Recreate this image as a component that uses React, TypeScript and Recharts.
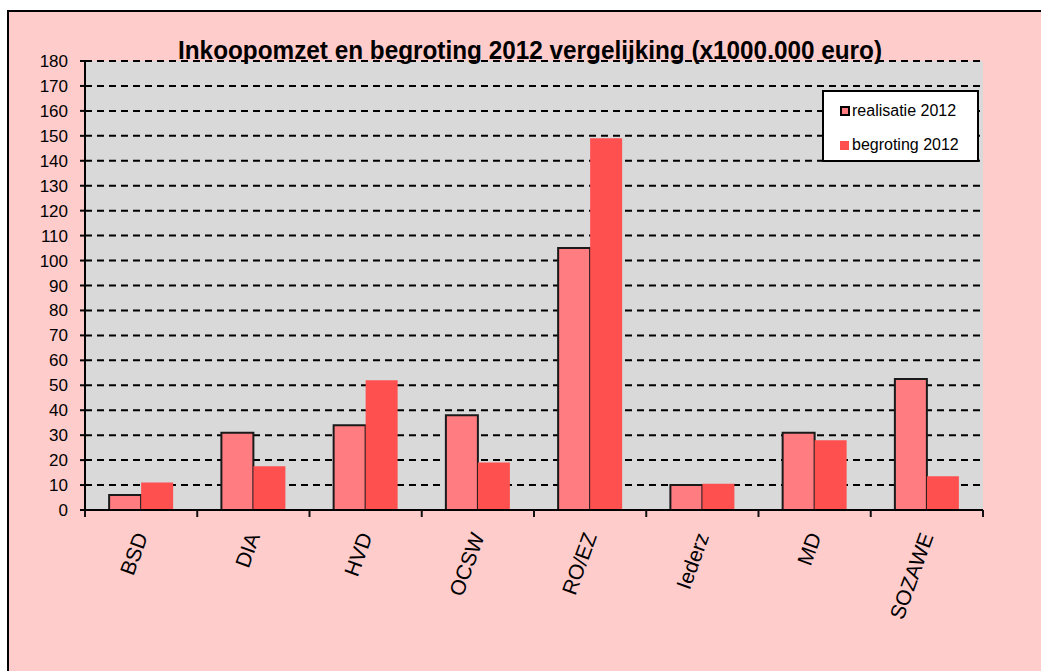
import React from 'react';
import { BarChart, Bar, XAxis, YAxis, CartesianGrid } from 'recharts';

const categories = ['BSD', 'DIA', 'HVD', 'OCSW', 'RO/EZ', 'Iederz', 'MD', 'SOZAWE'];
const realisatie2012 = [6, 31, 34, 38, 105, 10, 31, 52.5];
const begroting2012 = [11, 17.5, 52, 19, 149, 10.5, 28, 13.5];
const yTicks = [0, 10, 20, 30, 40, 50, 60, 70, 80, 90, 100, 110, 120, 130, 140, 150, 160, 170, 180];

const data = categories.map((name, i) => ({
    name,
    realisatie: realisatie2012[i],
    begroting: begroting2012[i],
}));

const FONT = '"Liberation Sans", Arial, sans-serif';
const PLOT_LEFT = 76;
const PLOT_WIDTH = 898;
const BAND = PLOT_WIDTH / categories.length;

// category label rotated, plus tick marks at the category borders
const CategoryTick: React.FC<any> = ({ x, y, payload, index }) => {
    const left = x - BAND / 2;
    const right = x + BAND / 2;
    const tx = x + 7;
    const ty = y + 26;
    return (
        <g>
            <line x1={left} y1={y} x2={left} y2={y + 7} stroke="#111" strokeWidth={2} />
            {index === categories.length - 1 && (
                <line x1={right} y1={y} x2={right} y2={y + 7} stroke="#111" strokeWidth={2} />
            )}
            <text
                x={tx}
                y={ty}
                textAnchor="end"
                fontSize={21}
                fontFamily={FONT}
                fill="#000"
                transform={`rotate(-70, ${tx}, ${ty})`}
            >
                {payload.value}
            </text>
        </g>
    );
};

const LegendBox: React.FC = () => (
    <div
        style={{
            position: 'absolute',
            left: 813,
            top: 78,
            width: 157,
            height: 72,
            boxSizing: 'border-box',
            background: '#fff',
            border: '2px solid #000',
            fontFamily: FONT,
            fontSize: 16,
            color: '#000',
            paddingLeft: 16,
        }}
    >
        <div style={{ display: 'flex', alignItems: 'center', height: 34, marginTop: 2 }}>
            <span style={{ width: 6, height: 6, background: '#FF7C80', border: '2px solid #000', marginRight: 2 }} />
            realisatie 2012
        </div>
        <div style={{ display: 'flex', alignItems: 'center', height: 34 }}>
            <span style={{ width: 9, height: 9, background: '#FF5050', marginRight: 3 }} />
            begroting 2012
        </div>
    </div>
);

export default function App() {
    return (
        <div
            style={{
                position: 'fixed',
                left: 7,
                top: 10,
                width: 1034,
                height: 661,
                boxSizing: 'border-box',
                background: '#FFCCCC',
                borderLeft: '2px solid #000',
                borderTop: '2px solid #000',
                overflow: 'hidden',
            }}
        >
            <div style={{ position: 'absolute', left: 0, top: 0 }}>
                <BarChart
                    width={1030}
                    height={658}
                    data={data}
                    margin={{ top: 49, right: 56, left: 0, bottom: 60 }}
                    barCategoryGap="21.5%"
                    barGap={0}
                >
                    <CartesianGrid
                        vertical={false}
                        stroke="#000"
                        strokeWidth={2}
                        strokeDasharray="7 5"
                        fill="#D9D9D9"
                        fillOpacity={1}
                    />
                    <XAxis
                        dataKey="name"
                        height={100}
                        interval={0}
                        tickSize={0}
                        tickMargin={0}
                        axisLine={{ stroke: '#000', strokeWidth: 2 }}
                        tick={<CategoryTick />}
                    />
                    <YAxis
                        width={PLOT_LEFT}
                        domain={[0, 180]}
                        ticks={yTicks}
                        interval={0}
                        tickSize={5}
                        tickMargin={12}
                        axisLine={{ stroke: '#000', strokeWidth: 2 }}
                        tickLine={{ stroke: '#000', strokeWidth: 2 }}
                        tick={{ fontSize: 17, fill: '#000', fontFamily: FONT }}
                    />
                    <Bar
                        dataKey="realisatie"
                        name="realisatie 2012"
                        fill="#FF7C80"
                        stroke="#1a1a1a"
                        strokeWidth={2}
                        isAnimationActive={false}
                    />
                    <Bar
                        dataKey="begroting"
                        name="begroting 2012"
                        fill="#FF5050"
                        isAnimationActive={false}
                    />
                </BarChart>
            </div>
            <LegendBox />
            <svg
                width={1030}
                height={80}
                style={{ position: 'absolute', left: 0, top: 0, pointerEvents: 'none' }}
            >
                <text
                    x={521}
                    y={47}
                    textAnchor="middle"
                    fontSize={26}
                    fontWeight="bold"
                    fontFamily={FONT}
                    textLength={704}
                    lengthAdjust="spacingAndGlyphs"
                    fill="#000"
                >
                    Inkoopomzet en begroting 2012 vergelijking (x1000.000 euro)
                </text>
            </svg>
        </div>
    );
}
